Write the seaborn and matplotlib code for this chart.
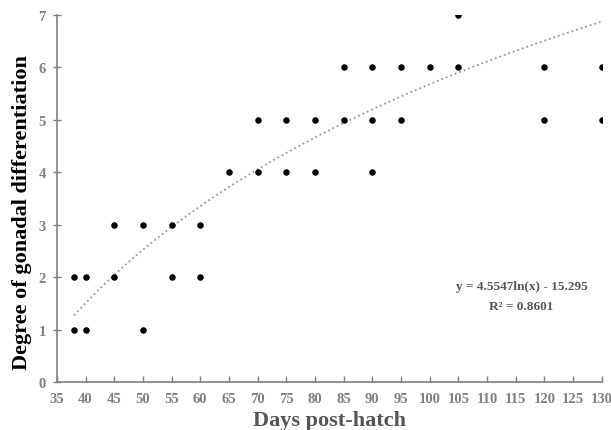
import numpy as np
import pandas as pd
import seaborn as sns
import matplotlib.pyplot as plt

# days post-hatch and differentiation degree for each sampled fish
days = [38, 38, 40, 40, 45, 45, 50, 50, 55, 55, 60, 60, 65, 70, 70, 75, 75,
        80, 80, 85, 85, 90, 90, 90, 95, 95, 100, 105, 105, 120, 120, 130, 130]
degree = [1, 2, 1, 2, 2, 3, 1, 3, 2, 3, 2, 3, 4, 4, 5, 4, 5,
          4, 5, 5, 6, 4, 5, 6, 5, 6, 6, 6, 7, 5, 6, 5, 6]

# log trendline as printed on the chart
fit_a = 4.5547
fit_b = -15.295
fit_r2 = 0.8601

df = pd.DataFrame({'days': days, 'degree': degree})
xs = np.linspace(min(days), max(days), 200)
trend = pd.DataFrame({'days': xs, 'degree': fit_a * np.log(xs) + fit_b})

sns.set_style('ticks')
plt.rcParams['font.family'] = ['Liberation Serif', 'DejaVu Serif']

fig = plt.figure(figsize=(6.11, 4.31), dpi=100)
ax = fig.add_axes([0.093, 0.111, 0.892, 0.852])

sns.lineplot(data=trend, x='days', y='degree', ax=ax, color='#999999',
             linestyle=':', linewidth=1.3)
sns.scatterplot(data=df, x='days', y='degree', ax=ax, s=22, color='black',
                linewidth=0, zorder=3)

ax.set_xlim(35, 130)
ax.set_ylim(0, 7)
ax.set_xticks(range(35, 131, 5))
ax.set_yticks(range(0, 8))
for lbl in ax.get_xticklabels() + ax.get_yticklabels():
    lbl.set_fontweight('bold')
    lbl.set_color('#808080')
    lbl.set_fontsize(10.5)
ax.tick_params(axis='x', direction='in', length=4, color='#808080', pad=7, width=1)
ax.tick_params(axis='y', direction='inout', length=6, color='#808080', pad=5, width=1)
for s in ['left', 'bottom']:
    ax.spines[s].set_color('#808080')
    ax.spines[s].set_linewidth(1.2)
sns.despine(ax=ax)

ax.set_xlabel('Days post-hatch', fontsize=16, fontweight='bold', color='#555555', labelpad=4)
ax.set_ylabel('Degree of gonadal differentiation', fontsize=16, fontweight='bold',
              color='black')
ax.yaxis.set_label_coords(-0.045, 0.465)

ax.text(116, 1.83, f'y = {fit_a}ln(x) - {abs(fit_b)}', ha='center', va='center',
        fontsize=9.5, fontweight='bold', color='#555555')
ax.text(116, 1.45, f'R² = {fit_r2}', ha='center', va='center',
        fontsize=9.5, fontweight='bold', color='#555555')

fig.savefig('out.png', dpi=100)
